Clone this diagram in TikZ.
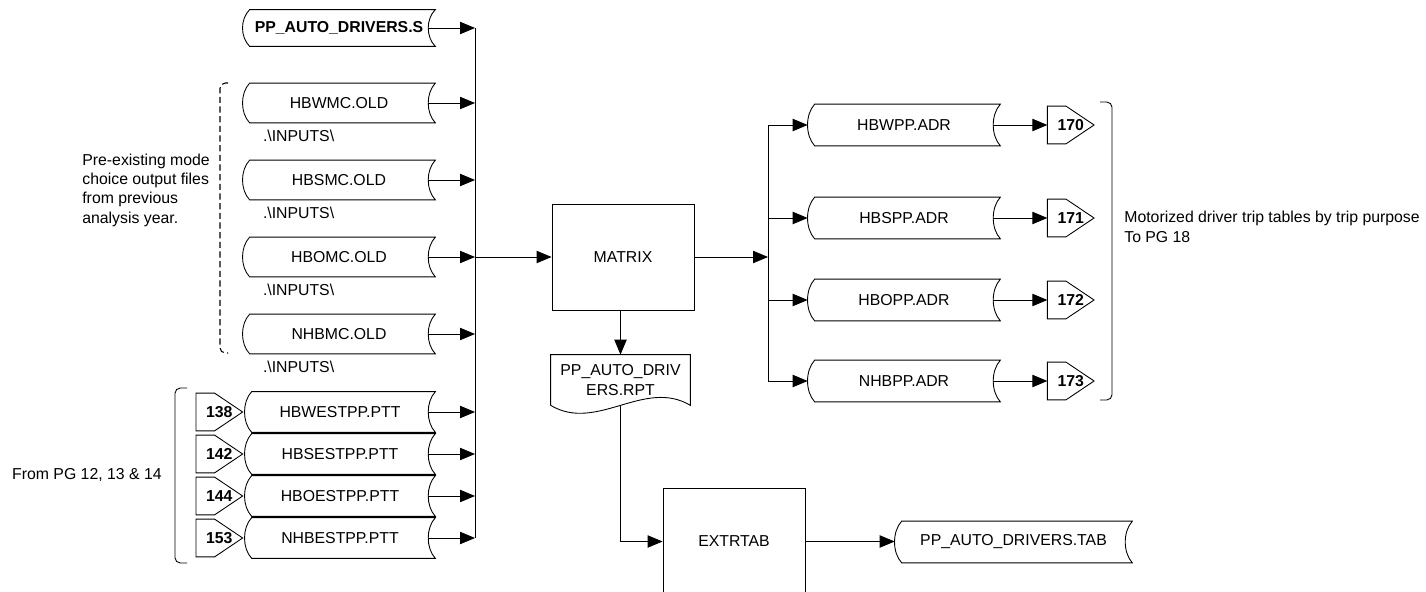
\documentclass[tikz,border=0pt]{standalone}
\usepackage{fontspec}
\setmainfont{Liberation Sans}
\usetikzlibrary{positioning,arrows.meta,calc}

\begin{document}
\begin{tikzpicture}[
  font=\fontsize{9}{11}\selectfont,
  >={Triangle[length=8.5pt,width=7pt]},
  line/.style={draw=black, line width=0.5pt},
  arr/.style={line, ->},
  store/.style={inner sep=0pt, minimum width=3.84cm, minimum height=0.78cm},
  ptt/.style={store, minimum width=3.80cm, minimum height=0.80cm},
  pgref/.style={inner sep=0pt, minimum width=0.92cm, minimum height=0.74cm, font=\fontsize{9}{11}\selectfont\bfseries},
  proc/.style={line, inner sep=0pt, minimum width=2.84cm, minimum height=2.12cm},
  doc/.style={inner sep=0pt, minimum width=2.78cm, minimum height=1.00cm, align=center},
  note/.style={inner sep=0pt, align=left}
]
\useasboundingbox (0,0) rectangle (28.52,-11.84);
% ---------------- script and old mode choice files
\node[store, minimum height=0.72cm, font=\fontsize{9}{11}\selectfont\bfseries] (s0) at (6.78,-0.56) {PP\_AUTO\_DRIVERS.S};
\node[store] (m1) at (6.78,-2.06) {HBWMC.OLD};
\node[store] (m2) at (6.78,-3.60) {HBSMC.OLD};
\node[store] (m3) at (6.78,-5.14) {HBOMC.OLD};
\node[store] (m4) at (6.78,-6.68) {NHBMC.OLD};
\foreach \i in {1,2,3,4} {
  \node[note, anchor=west] (i\i) at ($(m\i.south west)+(0.40,-0.25)$) {.\textbackslash INPUTS\textbackslash};
}
\node[note, anchor=west] (pre) at (1.64,-3.80) {Pre-existing mode\\ choice output files\\ from previous\\ analysis year.};
\draw[line, line width=0.6pt, dash pattern=on 3.5pt off 2pt, rounded corners=3pt] (4.56,-1.66) -- (4.40,-1.66) -- (4.40,-7.06) -- (4.56,-7.06);
% ---------------- trip tables from earlier pages
\node[ptt] (p1) at (6.80,-8.24) {HBWESTPP.PTT};
\node[ptt] (p2) at (6.80,-9.08) {HBSESTPP.PTT};
\node[ptt] (p3) at (6.80,-9.92) {HBOESTPP.PTT};
\node[ptt] (p4) at (6.80,-10.76) {NHBESTPP.PTT};
\foreach \i/\pg in {1/138,2/142,3/144,4/153} {
  \node[pgref, left=0.04cm of p\i] (k\i) {\pg};
}
\node[note, anchor=east] (from) at (3.24,-9.50) {From PG 12, 13 \& 14};
\draw[line, rounded corners=3pt] (3.74,-7.76) -- (3.50,-7.76) -- (3.50,-11.26) -- (3.74,-11.26);
% ---------------- input bus
\coordinate (lbus) at (9.50,0);
\draw[line] (s0.east -| lbus) -- (p4.east -| lbus);
\foreach \n in {s0,m1,m2,m3,m4,p1,p2,p3,p4} {
  \draw[arr] ([xshift=-1.4mm]\n.east) -- (\n.east -| lbus);
}
% ---------------- matrix and report
\node[proc] (mx) at (12.46,-5.14) {MATRIX};
\draw[arr] (mx.west -| lbus) -- (mx.west);
\node[doc] (rpt) at (12.41,-7.60) {PP\_AUTO\_DRIV\\ ERS.RPT};
\draw[arr] (mx.south -| rpt.north) -- (rpt.north);
% ---------------- driver trip tables
\node[store, minimum height=0.82cm] (a1) at (18.08,-2.50) {HBWPP.ADR};
\node[store, minimum height=0.82cm] (a2) at (18.08,-4.36) {HBSPP.ADR};
\node[store, minimum height=0.82cm] (a3) at (18.08,-6.00) {HBOPP.ADR};
\node[store, minimum height=0.82cm] (a4) at (18.08,-7.62) {NHBPP.ADR};
\coordinate (rbus) at (15.36,0);
\draw[arr] (mx.east) -- (mx.east -| rbus);
\draw[line] (a1.west -| rbus) -- (a4.west -| rbus);
\foreach \i/\pg in {1/170,2/171,3/172,4/173} {
  \node[pgref, right=0.94cm of a\i] (r\i) {\pg};
  \draw[arr] (a\i.west -| rbus) -- (a\i.west);
  \draw[arr] ([xshift=-1.4mm]a\i.east) -- (r\i.west);
}
\draw[line, rounded corners=3pt] (22.00,-2.04) -- (22.24,-2.04) -- (22.24,-8.00) -- (22.00,-8.00);
\node[note, anchor=west] (mot) at (22.48,-4.54) {Motorized driver trip tables by trip purpose\\ To PG 18};
% ---------------- extract
\node[proc] (ext) at (14.68,-10.83) {EXTRTAB};
\draw[arr] (rpt.south) |- (ext.west);
\node[store, minimum width=4.74cm, minimum height=0.82cm] (tab) at (20.27,-10.84) {PP\_AUTO\_DRIVERS.TAB};
\draw[arr] (ext.east) -- (ext.east -| tab.west);
% ---------------- outlines
\foreach \n in {s0,m1,m2,m3,m4,p1,p2,p3,p4,a1,a2,a3,a4,tab} {
  \draw[line] ($(\n.north west)+(0.14,0)$) -- (\n.north east)
    .. controls ($(\n.north east)!.25!(\n.south east)+(-0.19,0)$)
            and ($(\n.south east)!.25!(\n.north east)+(-0.19,0)$) .. (\n.south east)
    -- ($(\n.south west)+(0.14,0)$)
    .. controls ($(\n.south west)!.25!(\n.north west)+(-0.05,0)$)
            and ($(\n.north west)!.25!(\n.south west)+(-0.05,0)$) .. ($(\n.north west)+(0.14,0)$) -- cycle;
}
\foreach \n in {k1,k2,k3,k4,r1,r2,r3,r4} {
  \draw[line] (\n.north west) -- ($(\n.north west)!.4!(\n.north east)$) -- (\n.east)
    -- ($(\n.south west)!.4!(\n.south east)$) -- (\n.south west) -- cycle;
}
\draw[line] (rpt.south west) -- (rpt.north west) -- (rpt.north east) -- (rpt.south east)
  .. controls ($(rpt.south east)!.33!(rpt.south west)+(0,0.55)$)
          and ($(rpt.south west)!.33!(rpt.south east)+(0,-0.55)$) .. (rpt.south west);
\end{tikzpicture}
\end{document}
